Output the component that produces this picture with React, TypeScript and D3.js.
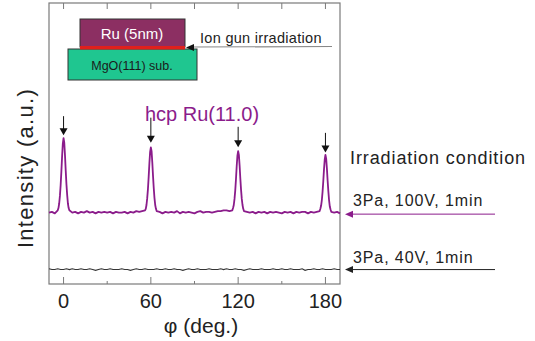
import * as d3 from 'd3';

const width = 535;
const height = 341;
const plot = { left: 49, right: 340, top: 3, bottom: 284 };

// phi axis
const majorTicks = [0, 60, 120, 180];
const minorTicks = [30, 90, 150];

// 3Pa, 100V, 1min  (purple) - phi grid is finer around the peaks
const ruPhi = [
  ...d3.range(-10, -4, 2),
  ...d3.range(-4, 4.01, 0.5),
  ...d3.range(6, 55, 2),
  ...d3.range(56, 64.01, 0.5),
  ...d3.range(66, 115, 2),
  ...d3.range(116, 124.01, 0.5),
  ...d3.range(126, 175, 2),
  ...d3.range(176, 184.01, 0.5),
  ...d3.range(186, 191, 2),
];
const ru100V = [
  0.02, 0.03, 0.01,
  0.05, 0.08, 0.14, 0.24, 0.38, 0.56, 0.76, 0.93, 1.0, 0.94, 0.77, 0.57, 0.39, 0.25, 0.14, 0.08, 0.05,
  0.02, 0.03, 0.01, 0.03, 0.02, 0.04, 0.02, 0.03, 0.01, 0.03, 0.02, 0.03, 0.02, 0.03, 0.01, 0.03, 0.02, 0.02, 0.03, 0.01, 0.03, 0.02, 0.04, 0.03, 0.04,
  0.05, 0.07, 0.12, 0.21, 0.33, 0.49, 0.67, 0.82, 0.88, 0.83, 0.68, 0.5, 0.34, 0.21, 0.12, 0.07, 0.04,
  0.03, 0.01, 0.03, 0.02, 0.03, 0.02, 0.04, 0.01, 0.03, 0.02, 0.03, 0.02, 0.01, 0.03, 0.04, 0.02, 0.03, 0.03, 0.02, 0.03, 0.04, 0.04, 0.05, 0.05, 0.04,
  0.05, 0.08, 0.12, 0.2, 0.31, 0.46, 0.63, 0.77, 0.83, 0.78, 0.64, 0.47, 0.32, 0.2, 0.12, 0.07, 0.04,
  0.03, 0.02, 0.03, 0.01, 0.03, 0.02, 0.03, 0.01, 0.03, 0.02, 0.03, 0.02, 0.01, 0.03, 0.02, 0.03, 0.01, 0.03, 0.02, 0.03, 0.03, 0.01, 0.03, 0.02, 0.03,
  0.04, 0.07, 0.11, 0.18, 0.29, 0.43, 0.59, 0.72, 0.78, 0.73, 0.6, 0.44, 0.3, 0.18, 0.1, 0.06, 0.03,
  0.02, 0.03, 0.01,
];
const offset100V = 0.73;

// 3Pa, 40V, 1min (black) - flat
const phi40V = d3.range(-10, 191, 2);
const ru40V = [
  0.01, 0, 0, 0.01, 0, 0, 0.01, 0, 0.01, 0, 0, 0.01, 0, 0, 0.01, 0, -0.01, 0, 0.01, 0,
  0, 0.01, 0, 0, 0, 0.01, 0, 0, -0.01, 0, 0.01, 0, 0, 0.01, 0, 0, 0, 0.01, 0, 0,
  0.01, 0, 0, 0.01, 0, 0, -0.01, 0, 0.01, 0, 0, 0.01, 0, 0, 0, 0.01, 0, 0, 0, 0.01,
  0, 0.01, 0, 0, 0.01, 0, 0, -0.01, 0, 0.01, 0, 0, 0, 0.01, 0, 0, 0, 0.01, 0, 0,
  0.01, 0, 0, 0.01, 0, 0, 0, 0.01, -0.01, 0, 0, 0.01, 0, 0, 0.01, 0, 0, 0, 0.01, 0, 0,
];

// arrows above the hcp Ru(11.0) peaks
const peakPhi = [0, 60, 120, 180];
const arrowFrom = [2.02, 2.0, 1.88, 1.8];
const arrowTo = [1.77, 1.67, 1.61, 1.54];

const purple = '#8b1c8b';
const font = 'Arial, "Liberation Sans", sans-serif';

const App = () => {
  const x = d3.scaleLinear().domain([-10, 190]).range([plot.left, plot.right]);
  const y = d3.scaleLinear().domain([-0.19, 3.51]).range([plot.bottom, plot.top]);

  const line100 = d3.line<number>()
    .x((_, i) => x(ruPhi[i]))
    .y((d) => y(d + offset100V));
  const line40 = d3.line<number>()
    .x((_, i) => x(phi40V[i]))
    .y((d) => y(d));

  const leftArrow = (x0: number, y0: number) => `M${x0},${y0} l8,-3.5 l0,7 Z`;

  return (
    <svg width={width} height={height} style={{ position: 'absolute', left: 0, top: 0, background: '#fff' }}
      fontFamily={font}>
      {/* frame */}
      <rect x={plot.left} y={plot.top} width={plot.right - plot.left} height={plot.bottom - plot.top}
        fill="none" stroke="#7a7a7a" strokeWidth={1.2} />
      {majorTicks.concat(minorTicks).map((t) => (
        <g key={t} stroke="#7a7a7a" strokeWidth={1}>
          <line x1={x(t)} x2={x(t)} y1={plot.top} y2={plot.top + 6} />
          <line x1={x(t)} x2={x(t)} y1={plot.bottom}
            y2={plot.bottom - (majorTicks.includes(t) ? 7 : 3)} />
        </g>
      ))}
      {majorTicks.map((t) => (
        <text key={t} x={x(t)} y={308} textAnchor="middle" fontSize={20} fill="#222">{t}</text>
      ))}
      <text x={201} y={333} textAnchor="middle" fontSize={21} fill="#222">φ (deg.)</text>
      <text transform="translate(33,168) rotate(-90)" textAnchor="middle" fontSize={22}
        letterSpacing={1.3} fill="#222">Intensity (a.u.)</text>

      {/* spectra */}
      <path d={line40(ru40V) ?? ''} fill="none" stroke="#333" strokeWidth={1.1} />
      <path d={line100(ru100V) ?? ''} fill="none" stroke={purple} strokeWidth={1.8} strokeLinejoin="round" />

      {peakPhi.map((p, i) => (
        <g key={p}>
          <line x1={x(p)} x2={x(p)} y1={y(arrowFrom[i])} y2={y(arrowTo[i]) - 5} stroke="#111" strokeWidth={1} />
          <path d={`M${x(p)},${y(arrowTo[i])} l-4,-7 l8,0 Z`} fill="#111" />
        </g>
      ))}
      <text x={202} y={121} textAnchor="middle" fontSize={20} fill={purple}>hcp Ru(11.0)</text>

      {/* inset: sample structure */}
      <rect x={68} y={49} width={129} height={31} fill="#1fc690" stroke="#333" strokeWidth={1} />
      <text x={132} y={70} textAnchor="middle" fontSize={12.5} fill="#1b1b1b">MgO(111) sub.</text>
      <rect x={80} y={19} width={105} height={28} fill="#8c2f62" stroke="#333" strokeWidth={1} />
      <rect x={80} y={46} width={105} height={3.5} fill="#e0201c" />
      <text x={132} y={39} textAnchor="middle" fontSize={15} fill="#fff">Ru (5nm)</text>
      <line x1={192} x2={332} y1={47} y2={46.5} stroke="#888" strokeWidth={1.2} />
      <path d="M186,47.5 l8,-3.5 l0,7 Z" fill="#111" />
      <text x={200} y={43} fontSize={14.5} letterSpacing={0.3} fill="#222">Ion gun irradiation</text>

      {/* irradiation condition legend */}
      <text x={350} y={164} fontSize={18} letterSpacing={0.9} fill="#222">Irradiation condition</text>
      <text x={353} y={206} fontSize={16} letterSpacing={0.9} fill="#222">3Pa, 100V, 1min</text>
      <line x1={350} x2={495} y1={y(offset100V)} y2={y(offset100V)} stroke={purple} strokeWidth={1} />
      <path d={leftArrow(345, y(offset100V))} fill={purple} />
      <text x={353} y={263} fontSize={16} letterSpacing={0.9} fill="#222">3Pa, 40V, 1min</text>
      <line x1={350} x2={495} y1={y(0)} y2={y(0)} stroke="#222" strokeWidth={1} />
      <path d={leftArrow(345, y(0))} fill="#222" />
    </svg>
  );
};

export default App;
